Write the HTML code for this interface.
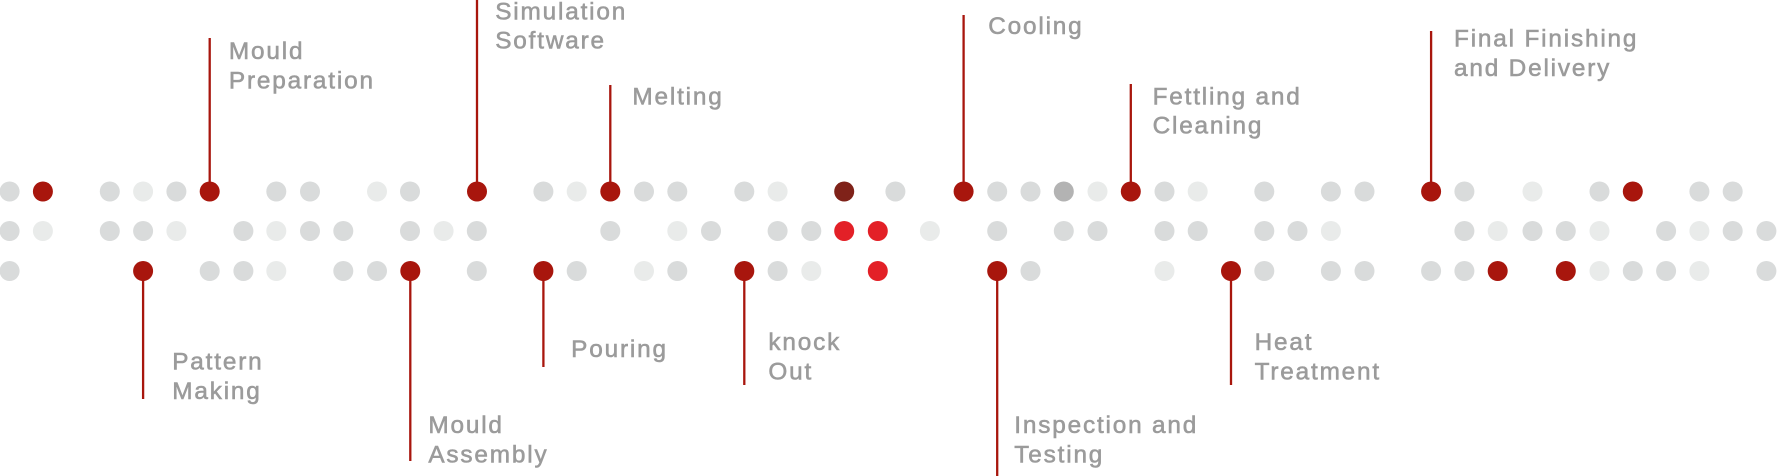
<!DOCTYPE html>
<html><head><meta charset="utf-8"><style>
html,body{margin:0;padding:0;background:#fff;}
svg{display:block}
text{font-family:"Liberation Sans",sans-serif;font-size:21.5px;fill:#9b9b9b;stroke:#9b9b9b;stroke-width:0.5px;letter-spacing:1.6px;}
</style></head><body>
<svg width="1777" height="476" viewBox="0 0 1777 476" xmlns="http://www.w3.org/2000/svg">
<g stroke="#a8160d" stroke-width="2.3">
<line x1="209.7" y1="38" x2="209.7" y2="191.5"/>
<line x1="477" y1="0" x2="477" y2="191.5"/>
<line x1="610.3" y1="85" x2="610.3" y2="191.5"/>
<line x1="963.6" y1="15" x2="963.6" y2="191.5"/>
<line x1="1130.8" y1="84" x2="1130.8" y2="191.5"/>
<line x1="1431.1" y1="31" x2="1431.1" y2="191.5"/>
<line x1="143.1" y1="271" x2="143.1" y2="399"/>
<line x1="410.3" y1="271" x2="410.3" y2="461"/>
<line x1="543.4" y1="271" x2="543.4" y2="367"/>
<line x1="744.3" y1="271" x2="744.3" y2="385"/>
<line x1="997.2" y1="271" x2="997.2" y2="476"/>
<line x1="1231" y1="271" x2="1231" y2="385"/>
</g>
<g transform="scale(1.1333)">
<text x="202" y="52">Mould</text><text x="202" y="78">Preparation</text>
<text x="437" y="17">Simulation</text><text x="437" y="43">Software</text>
<text x="558" y="92">Melting</text>
<text x="872" y="30">Cooling</text>
<text x="1017" y="92">Fettling and</text><text x="1017" y="118">Cleaning</text>
<text x="1283" y="41">Final Finishing</text><text x="1283" y="67">and Delivery</text>
<text x="152" y="326">Pattern</text><text x="152" y="352">Making</text>
<text x="378" y="382">Mould</text><text x="378" y="408">Assembly</text>
<text x="504" y="315">Pouring</text>
<text x="678" y="309">knock</text><text x="678" y="335">Out</text>
<text x="895" y="382">Inspection and</text><text x="895" y="408">Testing</text>
<text x="1107" y="309">Heat</text><text x="1107" y="335">Treatment</text>
</g>
<g>
<g fill="#d9dbdb">
<circle cx="9.6" cy="191.5" r="10"/><circle cx="109.8" cy="191.5" r="10"/><circle cx="176.4" cy="191.5" r="10"/><circle cx="276.3" cy="191.5" r="10"/><circle cx="310" cy="191.5" r="10"/><circle cx="410" cy="191.5" r="10"/><circle cx="543.4" cy="191.5" r="10"/>
<circle cx="644" cy="191.5" r="10"/><circle cx="677.3" cy="191.5" r="10"/><circle cx="744.3" cy="191.5" r="10"/><circle cx="895.4" cy="191.5" r="10"/><circle cx="997.2" cy="191.5" r="10"/><circle cx="1030.5" cy="191.5" r="10"/><circle cx="1164.5" cy="191.5" r="10"/>
<circle cx="1264.3" cy="191.5" r="10"/><circle cx="1330.9" cy="191.5" r="10"/><circle cx="1364.5" cy="191.5" r="10"/><circle cx="1464.4" cy="191.5" r="10"/><circle cx="1599.5" cy="191.5" r="10"/><circle cx="1699.4" cy="191.5" r="10"/><circle cx="1732.7" cy="191.5" r="10"/>
</g>
<g fill="#e9ebea">
<circle cx="143.1" cy="191.5" r="10"/><circle cx="377" cy="191.5" r="10"/><circle cx="576.7" cy="191.5" r="10"/><circle cx="777.6" cy="191.5" r="10"/><circle cx="1097.5" cy="191.5" r="10"/><circle cx="1197.7" cy="191.5" r="10"/><circle cx="1532.5" cy="191.5" r="10"/>
</g>
<g fill="#a8160d">
<circle cx="42.9" cy="191.5" r="10"/><circle cx="209.7" cy="191.5" r="10"/><circle cx="477" cy="191.5" r="10"/><circle cx="610.3" cy="191.5" r="10"/><circle cx="963.6" cy="191.5" r="10"/><circle cx="1130.8" cy="191.5" r="10"/><circle cx="1431.1" cy="191.5" r="10"/><circle cx="1632.8" cy="191.5" r="10"/>
</g>
<circle cx="844.2" cy="191.5" r="10" fill="#7f2219"/>
<circle cx="1063.8" cy="191.5" r="10" fill="#b3b3b3"/>
<g fill="#d9dbdb">
<circle cx="9.6" cy="231" r="10"/><circle cx="109.8" cy="231" r="10"/><circle cx="143.1" cy="231" r="10"/><circle cx="243.4" cy="231" r="10"/><circle cx="310" cy="231" r="10"/><circle cx="343.3" cy="231" r="10"/><circle cx="410" cy="231" r="10"/><circle cx="476.8" cy="231" r="10"/>
<circle cx="610.3" cy="231" r="10"/><circle cx="711" cy="231" r="10"/><circle cx="777.6" cy="231" r="10"/><circle cx="811.3" cy="231" r="10"/><circle cx="997.2" cy="231" r="10"/><circle cx="1063.8" cy="231" r="10"/><circle cx="1097.5" cy="231" r="10"/><circle cx="1164.5" cy="231" r="10"/>
<circle cx="1197.7" cy="231" r="10"/><circle cx="1264.3" cy="231" r="10"/><circle cx="1297.5" cy="231" r="10"/><circle cx="1464.4" cy="231" r="10"/><circle cx="1532.5" cy="231" r="10"/><circle cx="1565.8" cy="231" r="10"/><circle cx="1666.1" cy="231" r="10"/><circle cx="1732.7" cy="231" r="10"/><circle cx="1766.4" cy="231" r="10"/>
</g>
<g fill="#e9ebea">
<circle cx="42.9" cy="231" r="10"/><circle cx="176.4" cy="231" r="10"/><circle cx="276.3" cy="231" r="10"/><circle cx="443.6" cy="231" r="10"/><circle cx="677.3" cy="231" r="10"/><circle cx="929.9" cy="231" r="10"/><circle cx="1330.9" cy="231" r="10"/><circle cx="1497.7" cy="231" r="10"/><circle cx="1599.5" cy="231" r="10"/><circle cx="1699.4" cy="231" r="10"/>
</g>
<g fill="#e32027">
<circle cx="844.2" cy="231" r="10"/><circle cx="877.8" cy="231" r="10"/><circle cx="877.8" cy="271" r="10"/>
</g>
<g fill="#d9dbdb">
<circle cx="9.6" cy="271" r="10"/><circle cx="209.7" cy="271" r="10"/><circle cx="243.4" cy="271" r="10"/><circle cx="343.3" cy="271" r="10"/><circle cx="377" cy="271" r="10"/><circle cx="476.8" cy="271" r="10"/><circle cx="576.7" cy="271" r="10"/>
<circle cx="677.3" cy="271" r="10"/><circle cx="777.6" cy="271" r="10"/><circle cx="1030.5" cy="271" r="10"/>
<circle cx="1264.3" cy="271" r="10"/><circle cx="1330.9" cy="271" r="10"/><circle cx="1364.5" cy="271" r="10"/><circle cx="1431.1" cy="271" r="10"/><circle cx="1464.4" cy="271" r="10"/><circle cx="1632.8" cy="271" r="10"/><circle cx="1666.1" cy="271" r="10"/><circle cx="1766.4" cy="271" r="10"/>
</g>
<g fill="#e9ebea">
<circle cx="276.3" cy="271" r="10"/><circle cx="644" cy="271" r="10"/><circle cx="811.3" cy="271" r="10"/><circle cx="1164.5" cy="271" r="10"/><circle cx="1599.5" cy="271" r="10"/><circle cx="1699.4" cy="271" r="10"/>
</g>
<g fill="#a8160d">
<circle cx="143.1" cy="271" r="10"/><circle cx="410.3" cy="271" r="10"/><circle cx="543.4" cy="271" r="10"/><circle cx="744.3" cy="271" r="10"/><circle cx="997.2" cy="271" r="10"/><circle cx="1231" cy="271" r="10"/><circle cx="1497.7" cy="271" r="10"/><circle cx="1565.8" cy="271" r="10"/>
</g>
</g>
</svg>
</body></html>
